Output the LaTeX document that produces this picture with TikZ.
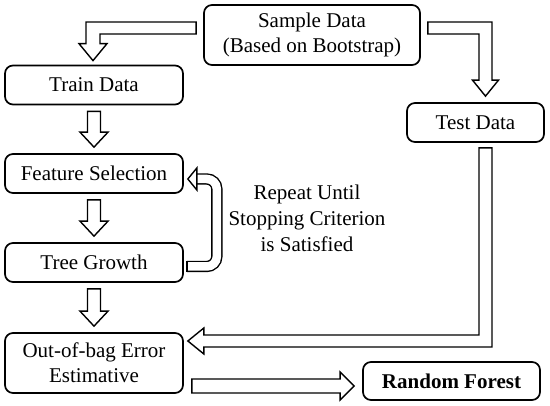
\documentclass[tikz,border=0pt]{standalone}
\usepackage{fontspec}
\setmainfont{Liberation Serif}
\usetikzlibrary{calc}
\newcommand\vdownarrow[2]{\draw[blk] ($(#1.south)+(-6.5,6)$) -- ($(#2.north)+(-6.5,-21)$) -- ($(#2.north)+(-14,-21)$) -- ($(#2.north)+(0,-6)$) -- ($(#2.north)+(14,-21)$) -- ($(#2.north)+(6.5,-21)$) -- ($(#1.south)+(6.5,6)$) -- cycle;}
\begin{document}
\begin{tikzpicture}[x=1pt,y=-1pt,
  box/.style={draw, line width=1.7pt, rounded corners=8pt, minimum width=178pt, minimum height=39pt, inner sep=2pt, align=center, font=\fontsize{21}{25}\selectfont},
  blk/.style={draw, fill=white, line width=1.4pt, line join=miter},
  lbl/.style={align=center, inner sep=0pt, font=\fontsize{21}{26}\selectfont}]
\useasboundingbox (0,0) rectangle (550,406);
\fill[white] (0,0) rectangle (550,406);

\node[box, minimum width=216pt, minimum height=60pt] (sample) at (312,35) {Sample Data\\(Based on Bootstrap)};
\node[box] (train) at (94,85) {Train Data};
\node[box] (feat) at (94,173.5) {Feature Selection};
\node[box] (tree) at (94,262.5) {Tree Growth};
\node[box, minimum height=60pt] (oob) at (94,363) {Out-of-bag Error\\Estimative};
\node[box, minimum width=137pt] (test) at (475.5,122.5) {Test Data};
\node[box, minimum width=177pt, minimum height=38pt] (rf) at (451.5,381) {\bfseries Random Forest};
\node[lbl] (rep) at (307,218) {Repeat Until\\Stopping Criterion\\is Satisfied};

% sample -> train
\coordinate (a1s) at ($(sample.west)+(-7,-7)$);
\coordinate (a1t) at ($(train.north)+(-1,-4)$);
\draw[blk] ($(a1s)+(0,-6)$) -- ($(a1t |- a1s)+(-7,-6)$) -- ($(a1t)+(-7,-17)$) -- ($(a1t)+(-14,-17)$) -- (a1t) -- ($(a1t)+(14,-17)$) -- ($(a1t)+(7,-17)$) -- ($(a1t |- a1s)+(7,6)$) -- ($(a1s)+(0,6)$) -- cycle;

% sample -> test
\coordinate (a2s) at ($(sample.east)+(7,-7)$);
\coordinate (a2t) at ($(test.north)+(10,-6)$);
\draw[blk] ($(a2s)+(0,-6)$) -- ($(a2t |- a2s)+(6.5,-6)$) -- ($(a2t)+(6.5,-16)$) -- ($(a2t)+(13,-16)$) -- (a2t) -- ($(a2t)+(-13,-16)$) -- ($(a2t)+(-6.5,-16)$) -- ($(a2t |- a2s)+(-6.5,6)$) -- ($(a2s)+(0,6)$) -- cycle;

% vertical chain
\vdownarrow{train}{feat}
\vdownarrow{feat}{tree}
\vdownarrow{tree}{oob}

% loop tree -> feat
\coordinate (a5s) at ($(tree.east)+(3,4)$);
\coordinate (a5t) at ($(feat.east)+(4,5.5)$);
\draw[line width=1.4pt, double, double distance=8.5pt, rounded corners=10pt] (a5s) -- ($(a5s)+(30,0)$) -- ($(a5s |- a5t)+(30,0)$) -- ($(a5t)+(9,0)$);
\draw[line width=1.4pt] ($(a5s)+(0,-5.65)$) -- ($(a5s)+(0,5.65)$);
\draw[blk] ($(a5t)+(9,-11)$) -- (a5t) -- ($(a5t)+(9,11)$) -- cycle;

% test -> oob
\coordinate (a3s) at ($(test.south)+(10,5)$);
\coordinate (a3t) at ($(oob.east)+(4,-22)$);
\draw[blk] ($(a3s)+(-6.5,0)$) -- ($(a3s |- a3t)+(-6.5,-6)$) -- ($(a3t)+(16,-6)$) -- ($(a3t)+(16,-13)$) -- (a3t) -- ($(a3t)+(16,13)$) -- ($(a3t)+(16,6)$) -- ($(a3s |- a3t)+(6.5,6)$) -- ($(a3s)+(6.5,0)$) -- cycle;

% oob -> rf
\coordinate (a4t) at ($(rf.west)+(-8,5)$);
\coordinate (a4s) at ($(oob.east |- a4t)+(8,0)$);
\draw[blk] ($(a4s)+(0,-7)$) -- ($(a4t)+(-14,-7)$) -- ($(a4t)+(-14,-14)$) -- (a4t) -- ($(a4t)+(-14,14)$) -- ($(a4t)+(-14,7)$) -- ($(a4s)+(0,7)$) -- cycle;
\end{tikzpicture}
\end{document}
